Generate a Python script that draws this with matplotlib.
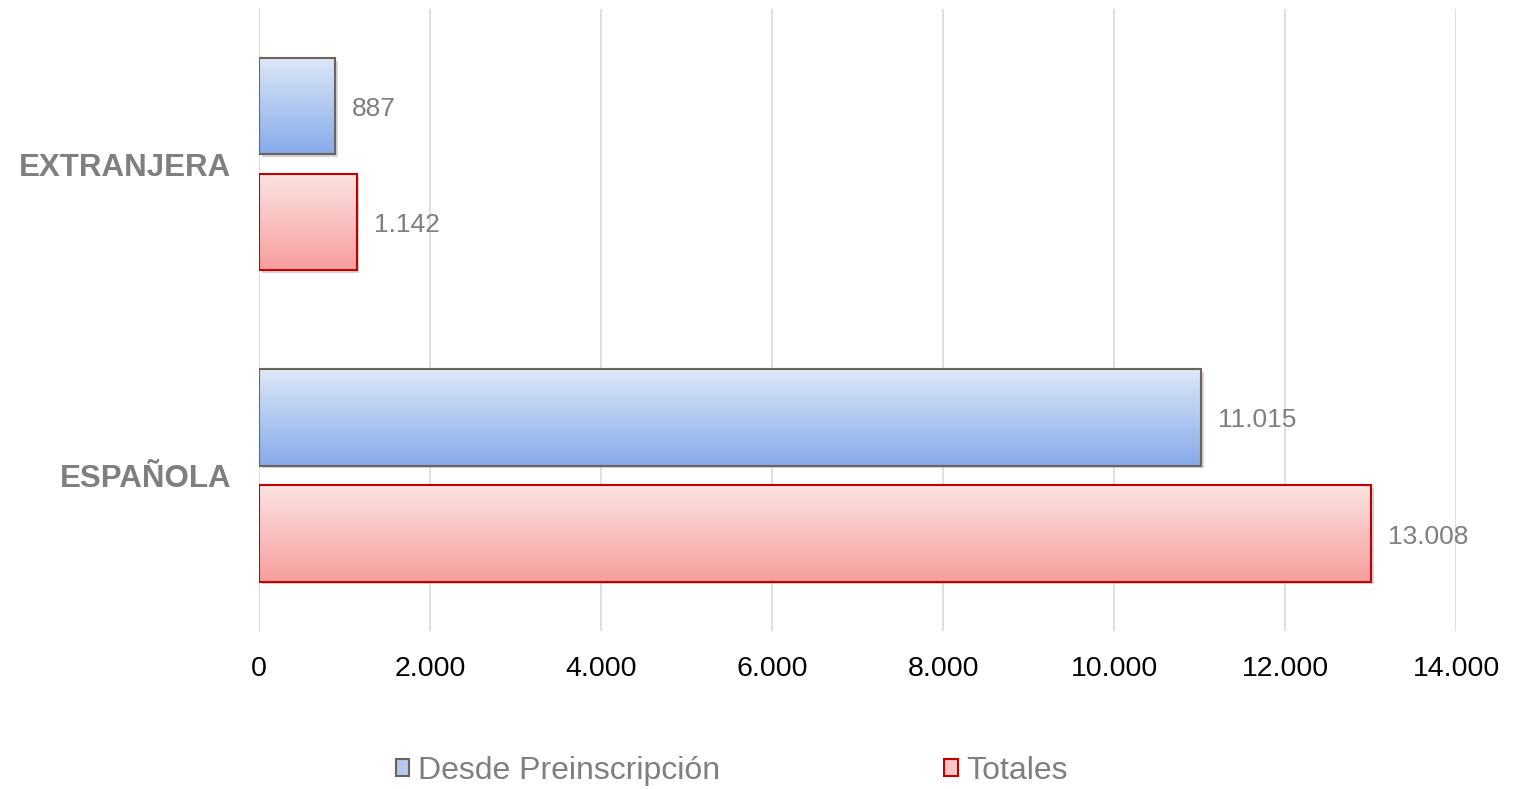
import numpy as np
import matplotlib
matplotlib.use("Agg")
import matplotlib.pyplot as plt
from matplotlib.colors import LinearSegmentedColormap
from matplotlib.patches import Patch
import matplotlib.patheffects as pe

plt.rcParams['font.family'] = ['Liberation Sans', 'DejaVu Sans']

categories = ["ESPAÑOLA", "EXTRANJERA"]
series_names = ["Desde Preinscripción", "Totales"]
desde = [11015, 887]
totales = [13008, 1142]
xticks = [0, 2000, 4000, 6000, 8000, 10000, 12000, 14000]
xtick_labels = ["0", "2.000", "4.000", "6.000", "8.000", "10.000", "12.000", "14.000"]

def fmt(v):
    return f"{v:,}".replace(",", ".")

fig = plt.figure(figsize=(15.13, 7.89), dpi=100)
ax = fig.add_axes([259/1513, 1-631/789, (1456-259)/1513, (631-8.5)/789])

y = np.arange(len(categories))
h = 0.31
off = 0.1865

styles = [
    dict(vals=desde, pos=y + off, top="#dde7f8", bot="#86aaea", edge="#6e625c", mid="#b4c9f0"),
    dict(vals=totales, pos=y - off, top="#fde3e3", bot="#f79d9d", edge="#c00000", mid="#fbc4c4"),
]

for s in styles:
    bars = ax.barh(s["pos"], s["vals"], height=h, facecolor="none",
                   edgecolor=s["edge"], linewidth=1.5, zorder=4)
    cmap = LinearSegmentedColormap.from_list("g", [s["top"], s["bot"]])
    grad = np.linspace(0, 1, 256).reshape(-1, 1)
    for b, v, p in zip(bars, s["vals"], s["pos"]):
        sh = ax.barh(p, v, height=h, color="#000000", alpha=0.0, zorder=2)[0]
        sh.set_path_effects([pe.SimplePatchShadow(offset=(2, -2), alpha=0.25, shadow_rgbFace="#555555")])
        sh.set_alpha(0.001)
        im = ax.imshow(grad, extent=[0, v, p - h/2, p + h/2], aspect="auto",
                       cmap=cmap, origin="upper", zorder=3, interpolation="bilinear")
        im.set_clip_path(b)
        ax.text(v + 200, p - 0.01, fmt(v), va="center", ha="left", fontsize=19, color="#7f7f7f", zorder=5)

ax.set_xlim(0, 14000)
ax.set_ylim(-0.5, 1.5)
ax.set_xticks(xticks)
ax.set_xticklabels(xtick_labels, fontsize=20.5, color="#000000")
ax.set_yticks(y)
ax.set_yticklabels(categories, fontsize=22.5, fontweight="bold", color="#7f7f7f")
ax.tick_params(axis="both", length=0)
ax.tick_params(axis="x", pad=18)
ax.tick_params(axis="y", pad=20)
ax.grid(axis="x", color="#d9d9d9", linewidth=1.2, zorder=0)
ax.set_axisbelow(True)
for sp in ax.spines.values():
    sp.set_visible(False)

handles = [Patch(facecolor=styles[0]["mid"], edgecolor=styles[0]["edge"], linewidth=1.5),
           Patch(facecolor=styles[1]["mid"], edgecolor=styles[1]["edge"], linewidth=1.5)]
fig.legend(handles, series_names, loc="center", bbox_to_anchor=(732/1513, 1-771/789),
           ncol=2, frameon=False, fontsize=23, labelcolor="#7f7f7f",
           handlelength=0.42, handleheight=0.42, handletextpad=0.28, columnspacing=7,
           borderpad=0, borderaxespad=0)

fig.savefig("out.png", dpi=100)
